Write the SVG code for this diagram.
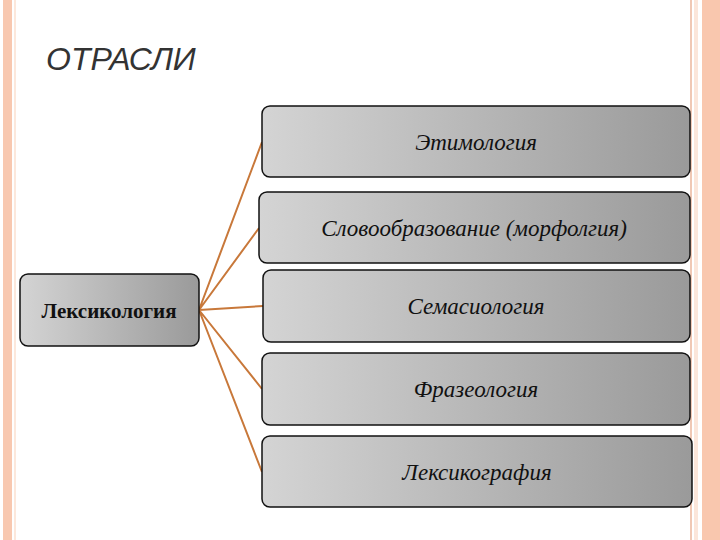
<svg xmlns="http://www.w3.org/2000/svg" width="720" height="540" viewBox="0 0 720 540">
<defs>
<linearGradient id="g" x1="0" y1="0" x2="1" y2="0">
<stop offset="0" stop-color="#d4d4d4"/><stop offset="1" stop-color="#9a9a9a"/>
</linearGradient>
<style>
.b{fill:url(#g);stroke:#111;stroke-width:1.5}
.t{font-family:"Liberation Serif",serif;font-style:italic;font-size:23px;fill:#111;text-anchor:middle}
.c{stroke:#c8783a;stroke-width:2;fill:none}
</style>
</defs>
<rect width="720" height="540" fill="#fff"/>
<rect x="3" y="0" width="9" height="540" fill="#f8c8b0"/>
<rect x="14" y="0" width="2" height="540" fill="#fce8dc"/>
<rect x="690" y="0" width="2" height="540" fill="#f0c8b4"/>
<rect x="694" y="0" width="4" height="540" fill="#fbe6da"/>
<rect x="702" y="0" width="18" height="540" fill="#f9c7ae"/>
<text x="46" y="70" font-family="Liberation Sans,sans-serif" font-style="italic" font-size="32" fill="#333">ОТРАСЛИ</text>
<g id="connectors">
<path class="c" d="M199 310L262 142M199 310L259 228M199 310L263 306M199 310L262 389M199 310L262 472"/>
</g>
<g id="n0"><rect class="b" x="20" y="274" width="179" height="72" rx="8"/><text x="109" y="318" class="t" font-style="normal" font-weight="bold" style="font-style:normal;font-weight:bold;font-size:21px">Лексикология</text></g>
<g id="n1"><rect class="b" x="262" y="106" width="428" height="71" rx="8"/><text x="476" y="150" class="t">Этимология</text></g>
<g id="n2"><rect class="b" x="259" y="192" width="431" height="71" rx="8"/><text x="474" y="236" class="t">Словообразование (морфолгия)</text></g>
<g id="n3"><rect class="b" x="263" y="270" width="427" height="72" rx="8"/><text x="476" y="314" class="t">Семасиология</text></g>
<g id="n4"><rect class="b" x="262" y="353" width="428" height="72" rx="8"/><text x="476" y="397" class="t">Фразеология</text></g>
<g id="n5"><rect class="b" x="262" y="436" width="430" height="71" rx="8"/><text x="477" y="480" class="t">Лексикография</text></g>
</svg>
